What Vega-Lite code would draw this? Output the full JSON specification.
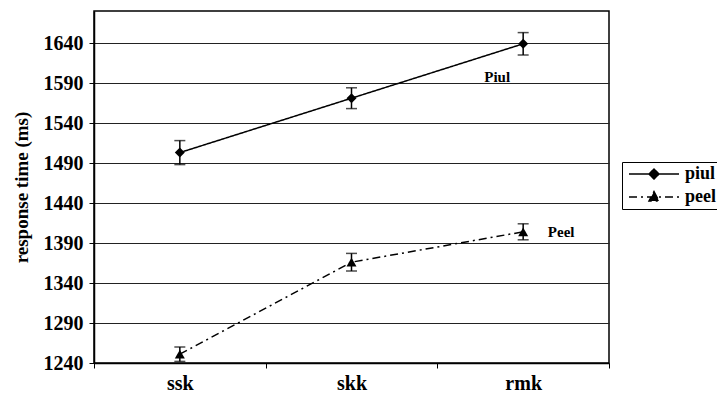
{
  "$schema": "https://vega.github.io/schema/vega-lite/v6.json",
  "width": 515,
  "height": 352,
  "autosize": "none",
  "padding": {"left": 94, "top": 11, "right": 108, "bottom": 36},
  "background": "white",
  "config": {
    "view": {"stroke": "black", "strokeWidth": 1.5},
    "font": "Liberation Serif"
  },
  "data": {
    "values": [
      {"cond": "ssk", "series": "piul", "rt": 1503, "lo": 1488, "hi": 1518},
      {"cond": "skk", "series": "piul", "rt": 1571, "lo": 1558, "hi": 1584},
      {"cond": "rmk", "series": "piul", "rt": 1639, "lo": 1625, "hi": 1653},
      {"cond": "ssk", "series": "peel", "rt": 1251, "lo": 1242, "hi": 1260},
      {"cond": "skk", "series": "peel", "rt": 1366, "lo": 1355, "hi": 1377},
      {"cond": "rmk", "series": "peel", "rt": 1404, "lo": 1394, "hi": 1414}
    ]
  },
  "encoding": {
    "x": {
      "field": "cond",
      "type": "nominal",
      "sort": ["ssk", "skk", "rmk"],
      "scale": {"paddingInner": 0, "paddingOuter": 0},
      "axis": {
        "title": null,
        "labelAngle": 0,
        "tickBand": "extent",
        "grid": false,
        "domainColor": "black",
        "domainWidth": 1.5,
        "tickColor": "black",
        "tickSize": 5,
        "tickWidth": 1,
        "labelFont": "Liberation Serif",
        "labelFontSize": 20,
        "labelFontWeight": "bold",
        "labelColor": "black",
        "labelPadding": 5
      }
    }
  },
  "layer": [
    {
      "mark": {"type": "line", "color": "black", "strokeWidth": 1.5},
      "encoding": {
        "y": {
          "field": "rt",
          "type": "quantitative",
          "title": "response time (ms)",
          "scale": {"domain": [1240, 1680], "nice": false, "zero": false},
          "axis": {
            "values": [1240, 1290, 1340, 1390, 1440, 1490, 1540, 1590, 1640],
            "format": "d",
            "grid": true,
            "gridColor": "#222",
            "gridWidth": 1,
            "domainColor": "black",
            "domainWidth": 1.5,
            "tickColor": "black",
            "tickSize": 5,
            "labelFont": "Liberation Serif",
            "labelFontSize": 20,
            "labelFontWeight": "bold",
            "labelColor": "black",
            "labelPadding": 6,
            "titleFont": "Liberation Serif",
            "titleFontSize": 19,
            "titleFontWeight": "bold",
            "titleColor": "black",
            "titlePadding": 12
          }
        },
        "strokeDash": {
          "field": "series",
          "type": "nominal",
          "scale": {"domain": ["piul", "peel"], "range": [[1, 0], [8, 4, 2, 4]]},
          "legend": {
            "title": null,
            "orient": "none",
            "legendX": 528,
            "legendY": 151,
            "strokeColor": "black",
            "fillColor": "white",
            "padding": 3,
            "symbolSize": 100,
            "symbolStrokeWidth": 1.5,
            "symbolStrokeColor": "black",
            "labelFont": "Liberation Serif",
            "labelFontSize": 18,
            "labelFontWeight": "bold",
            "labelColor": "black",
            "labelOffset": 42,
            "rowPadding": 5,
            "encode": {
              "symbols": {
                "update": {
                  "shape": {"signal": "datum.value === 'piul' ? 'M-1,0H9M4,-1L5,0L4,1L3,0Z' : 'M-1,0H9M4,-1.1L5,0.8L3,0.8Z'"},
                  "fill": {"value": "black"},
                  "stroke": {"value": "black"}
                }
              }
            }
          }
        }
      }
    },
    {
      "mark": {"type": "point", "filled": true, "color": "black", "opacity": 1, "size": 100},
      "encoding": {
        "y": {"field": "rt", "type": "quantitative", "title": "response time (ms)"},
        "shape": {
          "condition": {"test": "datum.series === 'piul'", "value": "diamond"},
          "value": "triangle-up"
        }
      }
    },
    {
      "mark": {"type": "errorbar", "color": "black", "thickness": 1.5, "ticks": {"size": 11, "color": "black"}},
      "encoding": {
        "y": {"field": "lo", "type": "quantitative", "title": "response time (ms)"},
        "y2": {"field": "hi"},
        "detail": {"field": "series"}
      }
    },
    {
      "data": {"values": [{"cond": "rmk", "rt": 1597, "label": "Piul"}]},
      "mark": {"type": "text", "font": "Liberation Serif", "fontSize": 15, "fontWeight": "bold", "color": "black", "dx": -26, "baseline": "middle"},
      "encoding": {
        "y": {"field": "rt", "type": "quantitative", "title": "response time (ms)"},
        "text": {"field": "label"}
      }
    },
    {
      "data": {"values": [{"cond": "rmk", "rt": 1404, "label": "Peel"}]},
      "mark": {"type": "text", "font": "Liberation Serif", "fontSize": 15, "fontWeight": "bold", "color": "black", "dx": 38, "baseline": "middle"},
      "encoding": {
        "y": {"field": "rt", "type": "quantitative", "title": "response time (ms)"},
        "text": {"field": "label"}
      }
    }
  ]
}
